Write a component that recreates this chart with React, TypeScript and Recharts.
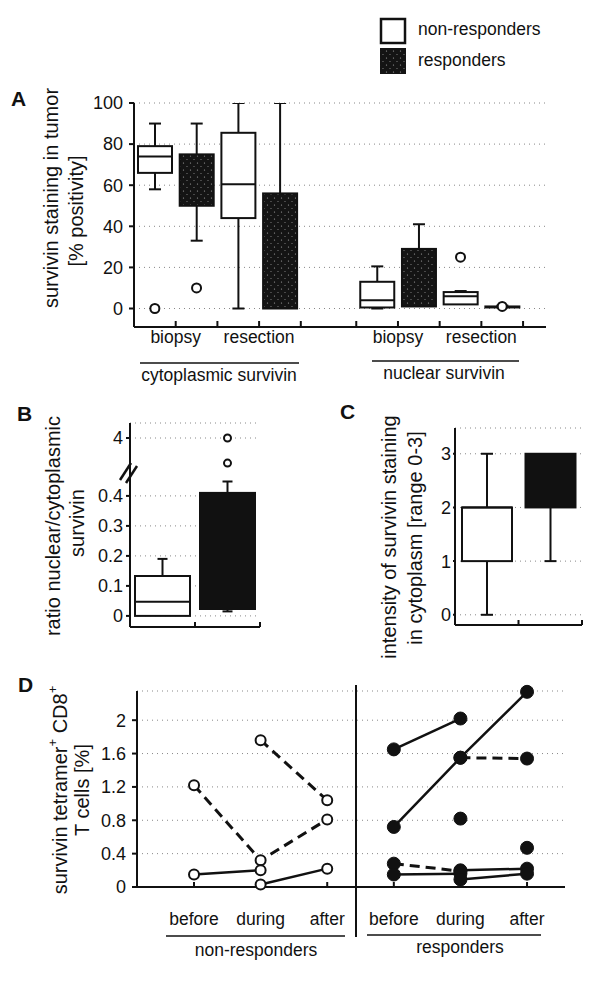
import React from "react";
import { ComposedChart, Bar, Scatter, Line, XAxis, YAxis, CartesianGrid } from "recharts";

const FONT = "'Liberation Sans', Arial, Helvetica, sans-serif";
const INK = "#111";

// cohorts / groups
const cohorts = ["non-responders", "responders"];
const compartmentsA = ["cytoplasmic survivin", "nuclear survivin"];
const sitesA = ["biopsy", "resection"];

// Panel A boxes, order: cyto biopsy NR, R | cyto resection NR, R | nuclear biopsy NR, R | nuclear resection NR, R
const minA = [58, 33, 0, 0, 0, 1, 2, 0.6];
const q1A = [66, 50, 44, 0, 0.5, 1, 2, 1];
const medA = [74, 62, 60.5, 28, 4, 12, 6, 1];
const q3A = [79, 75, 85.5, 56, 13, 29, 8, 1];
const maxA = [90, 90, 100, 100, 20.5, 41, 8.5, 1.4];
const outliersA = [[0], [10], [], [], [], [], [25], [1]];
const ticksA = [0, 20, 40, 60, 80, 100];

// Panel B: ratio nuclear / cytoplasmic (NR, R)
const minB = [0, 0.015];
const q1B = [0, 0.023];
const medB = [0.047, 0.2];
const q3B = [0.133, 0.41];
const maxB = [0.19, 0.448];
const outliersB = [[], [1.3, 4]];
const ticksB = [0, 0.1, 0.2, 0.3, 0.4, 4];

// Panel C: cytoplasmic intensity 0-3 (NR, R)
const minC = [0, 1];
const q1C = [1, 2];
const medC = [2, 3];
const q3C = [2, 3];
const maxC = [3, 3];
const ticksC = [0, 1, 2, 3];

// Panel D: tetramer+ CD8+ T cells, one track per patient (before, during, after)
const timepoints = ["before", "during", "after"];
const nonRespTracks = [
  [1.22, 0.32, 0.81],
  [null, 1.76, 1.04],
  [0.15, 0.2, null],
  [null, 0.03, 0.22],
];
const nonRespDashed = [true, true, false, false];
const respTracks = [
  [1.65, 2.02, null],
  [0.72, 1.55, 2.34],
  [null, 1.55, 1.54],
  [0.28, 0.19, null],
  [0.15, 0.16, null],
  [null, 0.2, 0.22],
  [null, 0.09, 0.16],
  [null, 0.82, null],
  [null, null, 0.47],
];
const respDashed = [false, false, true, true, false, false, false, false, false];
const ticksD = [0, 0.4, 0.8, 1.2, 1.6, 2];

// layout slots on the x axes
const slotA = [0.5, 1.5, 2.5, 3.5, 5.83, 6.83, 7.83, 8.83];
const slotB = [0.5, 1.5];
const slotD = [0, 1, 2, 3, 4, 5];

const boxesA = slotA.map((x, i) => ({
  x, range: [minA[i], maxA[i]], q1: q1A[i], med: medA[i], q3: q3A[i], resp: i % 2 === 1,
}));
const outA = outliersA.flatMap((vals, i) => vals.map((y) => ({ x: slotA[i], y })));
// site labels sit between the NR / R pair
const siteTicksA = [0, 2, 4, 6].map((i) => (slotA[i] + slotA[i + 1]) / 2);

// broken axis for panel B: values above 0.5 are compressed
const brk = (v: number) => (v <= 0.5 ? v : 0.5 + (v - 1) * 0.031);
const boxesB = slotB.map((x, i) => ({
  x, range: [minB[i], maxB[i]], q1: q1B[i], med: medB[i], q3: q3B[i], resp: i === 1,
}));
const outB = outliersB.flatMap((vals, i) => vals.map((y) => ({ x: slotB[i], y: brk(y) })));

const boxesC = slotB.map((x, i) => ({
  x, range: [minC[i], maxC[i]], q1: q1C[i], med: medC[i], q3: q3C[i], resp: i === 1,
}));

const toTrack = (vals: (number | null)[], offset: number) =>
  vals.map((y, k) => ({ x: k + offset, y })).filter((d) => d.y !== null);

const tickStyle = { fill: INK, fontSize: 18, fontFamily: FONT };
const labStyle = { fill: INK, fontSize: 17.5, fontFamily: FONT };

const EmptyTick = () => <g />;

function makeBox(cap: number, respFill: string) {
  return (props: any) => {
    const { x, y, width, height, payload } = props;
    const [lo, hi] = payload.range;
    const top = Math.min(y, y + height);
    const h = Math.abs(height);
    const k = hi > lo ? h / (hi - lo) : 0;
    const py = (v: number) => top + (hi - v) * k;
    const cx = x + width / 2;
    const s = { stroke: INK, strokeWidth: 2 };
    return (
      <g>
        {hi > payload.q3 && <line x1={cx} x2={cx} y1={py(hi)} y2={py(payload.q3)} {...s} />}
        {hi > payload.q3 && <line x1={cx - cap / 2} x2={cx + cap / 2} y1={py(hi)} y2={py(hi)} {...s} />}
        {lo < payload.q1 && <line x1={cx} x2={cx} y1={py(payload.q1)} y2={py(lo)} {...s} />}
        {lo < payload.q1 && <line x1={cx - cap / 2} x2={cx + cap / 2} y1={py(lo)} y2={py(lo)} {...s} />}
        <rect
          x={x}
          y={py(payload.q3)}
          width={width}
          height={Math.max(py(payload.q1) - py(payload.q3), 1)}
          fill={payload.resp ? respFill : "#fff"}
          {...s}
        />
        {!payload.resp && <line x1={x} x2={x + width} y1={py(payload.med)} y2={py(payload.med)} {...s} />}
      </g>
    );
  };
}

const OpenDot = (p: any) => <circle cx={p.cx} cy={p.cy} r={4.5} fill="#fff" stroke={INK} strokeWidth={2} />;

const Stipple = ({ id }: { id: string }) => (
  <pattern id={id} width="7" height="7" patternUnits="userSpaceOnUse">
    <rect width="7" height="7" fill="#141414" />
    <circle cx="1.5" cy="2" r="0.6" fill="#aaa" />
    <circle cx="5" cy="5.5" r="0.6" fill="#888" />
  </pattern>
);

// rotated axis title, one entry per line: [centre x, centre y, text]
function Rotated({ lines }: { lines: [number, number, React.ReactNode][] }) {
  return (
    <>
      {lines.map(([x, y, ln], i) => (
        <text
          key={i}
          transform={`translate(${x},${y}) rotate(-90)`}
          textAnchor="middle"
          dominantBaseline="central"
          fontSize={20}
          fontFamily={FONT}
          fill={INK}
        >
          {ln}
        </text>
      ))}
    </>
  );
}

export default function App() {
  const gridProps = { vertical: false, stroke: "#888", strokeDasharray: "1 4" };
  return (
    <div style={{ position: "absolute", left: 0, top: 0, width: 600, height: 981, background: "#fff", overflow: "hidden" }}>
      {/* Panel A */}
      <div style={{ position: "absolute", left: 0, top: 0 }}>
        <ComposedChart width={600} height={400} data={boxesA} margin={{ top: 103, right: 54, bottom: 32, left: 74 }}>
          <defs>
            <Stipple id="stippleA" />
          </defs>
          <CartesianGrid {...gridProps} />
          <XAxis
            dataKey="x" type="number" domain={[0, 9.88]} allowDataOverflow
            ticks={[1, 2, 3, 4, 5.33, 6.33, 7.33, 8.33, 9.33]} tick={EmptyTick}
            height={1} tickSize={-6} stroke={INK} strokeWidth={2}
          />
          <XAxis
            xAxisId="lab" dataKey="x" type="number" domain={[0, 9.88]} allowDataOverflow
            ticks={siteTicksA} tickFormatter={(v) => sitesA[siteTicksA.indexOf(v) % 2]}
            axisLine={false} tickLine={false} tickSize={0} tickMargin={3} height={40} tick={labStyle}
          />
          <YAxis
            domain={[-9, 100]} allowDataOverflow ticks={ticksA} width={60}
            tickSize={5} tickMargin={6} tick={tickStyle} stroke={INK} strokeWidth={2}
          />
          <Bar dataKey="range" barSize={34} isAnimationActive={false} shape={makeBox(12, "url(#stippleA)")} />
          <Scatter data={outA} dataKey="y" isAnimationActive={false} shape={OpenDot} />
        </ComposedChart>
      </div>

      {/* Panel B */}
      <div style={{ position: "absolute", left: 0, top: 390 }}>
        <ComposedChart width={300} height={260} data={boxesB} margin={{ top: 33, right: 40, bottom: 22, left: 90 }}>
          <CartesianGrid {...gridProps} />
          <XAxis
            dataKey="x" type="number" domain={[0, 2]} allowDataOverflow ticks={[0, 1, 2]}
            tick={EmptyTick} height={1} tickSize={-5} stroke={INK} strokeWidth={2}
          />
          <YAxis
            domain={[-0.037, 0.643]} allowDataOverflow ticks={ticksB.map(brk)} width={40}
            tickFormatter={(v) => String(ticksB[ticksB.map(brk).indexOf(v)])}
            tickSize={4} tickMargin={3} tick={tickStyle} stroke={INK} strokeWidth={2}
          />
          <Bar dataKey="range" barSize={55} isAnimationActive={false} shape={makeBox(10, INK)} />
          <Scatter data={outB} dataKey="y" isAnimationActive={false} shape={(p: any) => <circle cx={p.cx} cy={p.cy} r={3.5} fill="#fff" stroke={INK} strokeWidth={2} />} />
        </ComposedChart>
      </div>

      {/* Panel C */}
      <div style={{ position: "absolute", left: 300, top: 390 }}>
        <ComposedChart width={300} height={260} data={boxesC} margin={{ top: 38, right: 18, bottom: 24, left: 125 }}>
          <CartesianGrid {...gridProps} />
          <XAxis
            dataKey="x" type="number" domain={[0, 2]} allowDataOverflow ticks={[0, 1, 2]}
            tick={EmptyTick} height={1} tickSize={-5} stroke={INK} strokeWidth={2}
          />
          <YAxis
            domain={[-0.19, 3.48]} allowDataOverflow ticks={ticksC} width={30}
            tickSize={2} tickMargin={2} tick={tickStyle} stroke={INK} strokeWidth={2}
          />
          <Bar dataKey="range" barSize={50} isAnimationActive={false} shape={makeBox(12, INK)} />
        </ComposedChart>
      </div>

      {/* Panel D */}
      <div style={{ position: "absolute", left: 0, top: 660 }}>
        <ComposedChart
          width={600} height={320} data={slotD.map((x) => ({ x }))}
          margin={{ top: 31, right: 35, bottom: 52, left: 77 }}
        >
          <CartesianGrid {...gridProps} />
          <XAxis
            dataKey="x" type="number" domain={[-0.856, 5.57]} ticks={slotD}
            tick={EmptyTick} height={1} tickSize={-5} stroke={INK} strokeWidth={2}
          />
          <XAxis
            xAxisId="lab" dataKey="x" type="number" domain={[-0.856, 5.57]} ticks={slotD}
            tickFormatter={(v) => timepoints[v % 3]} axisLine={false} tickLine={false}
            tickSize={0} tickMargin={25} height={40} tick={labStyle}
          />
          <YAxis
            domain={[0, 2.35]} ticks={ticksD} width={60} tickSize={5} tickMargin={6}
            tick={tickStyle} stroke={INK} strokeWidth={2}
          />
          {nonRespTracks.map((vals, i) => (
            <Line
              key={`nr${i}`} data={toTrack(vals, 0)} dataKey="y" stroke={INK}
              strokeWidth={nonRespDashed[i] ? 3 : 2.5} strokeDasharray={nonRespDashed[i] ? "10 6" : undefined}
              dot={{ r: 5, fill: "#fff", stroke: INK, strokeWidth: 2, strokeDasharray: "none" }}
              activeDot={false} isAnimationActive={false}
            />
          ))}
          {respTracks.map((vals, i) => (
            <Line
              key={`r${i}`} data={toTrack(vals, 3)} dataKey="y" stroke={INK}
              strokeWidth={respDashed[i] ? 3 : 2.5} strokeDasharray={respDashed[i] ? "10 6" : undefined}
              dot={{ r: 6.5, fill: INK, stroke: INK, strokeWidth: 1, strokeDasharray: "none" }}
              activeDot={false} isAnimationActive={false}
            />
          ))}
        </ComposedChart>
      </div>

      {/* annotations */}
      <svg width={600} height={981} style={{ position: "absolute", left: 0, top: 0, pointerEvents: "none" }}>
        <defs>
          <Stipple id="stippleL" />
        </defs>
        <g fontFamily={FONT} fill={INK}>
          {/* legend */}
          <rect x={381} y={19} width={24} height={24} fill="#fff" stroke={INK} strokeWidth={2.5} />
          <rect x={380} y={48} width={26} height={26} fill="url(#stippleL)" />
          <text x={418} y={35} fontSize={17.5}>{cohorts[0]}</text>
          <text x={418} y={66} fontSize={17.5}>{cohorts[1]}</text>

          {/* panel letters */}
          <text x={11} y={106} fontSize={21} fontWeight="bold">A</text>
          <text x={17} y={421} fontSize={21} fontWeight="bold">B</text>
          <text x={340} y={419} fontSize={21} fontWeight="bold">C</text>
          <text x={18} y={692} fontSize={21} fontWeight="bold">D</text>

          {/* panel A group labels */}
          <line x1={140} x2={299} y1={363} y2={363} stroke={INK} strokeWidth={1.5} />
          <line x1={372} x2={519} y1={361} y2={361} stroke={INK} strokeWidth={1.5} />
          <text x={219} y={381} fontSize={17.5} textAnchor="middle">{compartmentsA[0]}</text>
          <text x={444} y={379} fontSize={17.5} textAnchor="middle">{compartmentsA[1]}</text>

          {/* axis titles */}
          <Rotated lines={[[51, 198, "survivin staining in tumor"], [76, 211, "[% positivity]"]]} />
          <Rotated lines={[[53, 526, "ratio nuclear/cytoplasmic"], [77, 523, "survivin"]]} />
          <Rotated lines={[[389, 537, "intensity of survivin staining"], [415, 538, "in cytoplasm [range 0-3]"]]} />
          <Rotated
            lines={[
              [60, 790, <>survivin tetramer<tspan baselineShift="super" fontSize={13}>+</tspan> CD8<tspan baselineShift="super" fontSize={13}>+</tspan></>],
              [82, 790, "T cells [%]"],
            ]}
          />

          {/* broken axis marks in B */}
          <line x1={120} y1={480} x2={131} y2={463} stroke={INK} strokeWidth={2.5} />
          <line x1={126} y1={483} x2={137} y2={466} stroke={INK} strokeWidth={2.5} />

          {/* panel D cohorts */}
          <line x1={356} x2={356} y1={685} y2={937} stroke={INK} strokeWidth={2} />
          <line x1={166} x2={345} y1={936} y2={936} stroke={INK} strokeWidth={1.5} />
          <line x1={367} x2={541} y1={935} y2={935} stroke={INK} strokeWidth={1.5} />
          <text x={256} y={956} fontSize={17.5} textAnchor="middle">{cohorts[0]}</text>
          <text x={460} y={953} fontSize={17.5} textAnchor="middle">{cohorts[1]}</text>
        </g>
      </svg>
    </div>
  );
}
